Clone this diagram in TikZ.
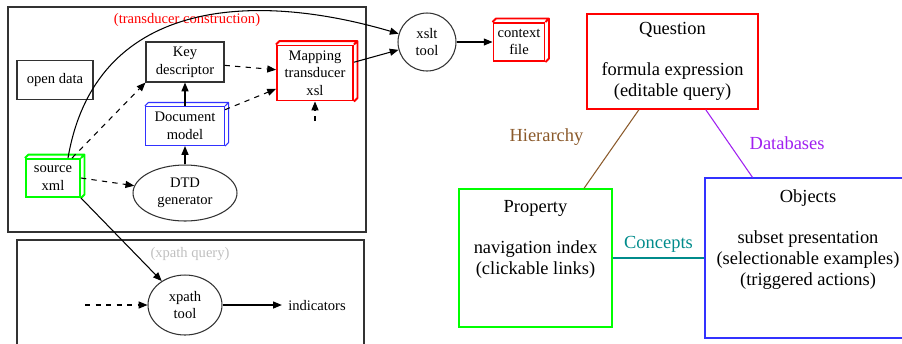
\documentclass[tikz,border=0pt]{standalone}
\usepackage{fontspec}
\setmainfont{Liberation Serif}
\usetikzlibrary{arrows.meta, shapes.geometric}

\definecolor{gvred}{RGB}{255,0,0}
\definecolor{gvgreen}{RGB}{0,255,0}
\definecolor{gvblue}{RGB}{50,50,255}
\definecolor{hiercol}{RGB}{139,90,43}
\definecolor{dbcol}{RGB}{160,32,240}
\definecolor{conceptcol}{RGB}{0,139,139}
\definecolor{framecol}{RGB}{50,50,50}

\begin{document}
\begin{tikzpicture}[x=0.02cm, y=-0.02cm, >={Triangle[length=5pt,width=4pt]}, line width=0.6pt]
  % Define styles
  \tikzstyle{smalltext} = [font=\fontsize{8.3}{10}\selectfont, align=center]
  \tikzstyle{bigtext} = [font=\fontsize{10.5}{11.8}\selectfont, align=center]
  \tikzstyle{block} = [smalltext, rectangle, draw=framecol, inner sep=0pt]
  \tikzstyle{cube} = [smalltext, rectangle, inner sep=0pt]
  \tikzstyle{oval} = [smalltext, ellipse, draw=framecol, inner sep=0pt]
  \tikzstyle{panel} = [bigtext, rectangle, inner sep=0pt, line width=0.8pt]
  \tikzstyle{link} = [->, black]
  \tikzstyle{dlink} = [->, black, dash pattern=on 3pt off 3pt]

  \useasboundingbox (0,0) rectangle (902,343);

  % Clusters
  \draw[framecol] (8,7) rectangle (366,232);
  \draw[framecol] (17,240) rectangle (364,346);
  \node[smalltext, text=gvred] (buildlbl) at (187,20) {(transducer construction)};
  \node[smalltext, text=black!25] (querylbl) at (190,254) {(xpath query)};

  % Open data
  \node[block, minimum width=1.52cm, minimum height=0.78cm] (open) at (55,80) {open data};

  % Key descriptor
  \node[block, minimum width=1.56cm, minimum height=0.8cm] (key) at (185,62) {Key\\descriptor};

  % Mapping transducer
  \node[cube, draw=gvred, line width=1.1pt, minimum width=1.52cm, minimum height=1.1cm] (map) at (315,73) {Mapping\\transducer\\xsl};

  % Document model
  \node[cube, draw=gvblue, minimum width=1.58cm, minimum height=0.78cm] (doc) at (185,126) {Document\\model};

  % Source xml
  \node[cube, draw=gvgreen, line width=1.1pt, minimum width=1.08cm, minimum height=0.76cm] (src) at (53,178) {source\\xml};

  % DTD generator
  \node[oval, minimum width=2.08cm, minimum height=1.12cm] (dtd) at (185,193) {DTD\\generator};

  % xslt tool
  \node[smalltext, circle, draw=framecol, minimum size=1.16cm, inner sep=0pt] (xslt) at (427,42) {xslt\\tool};

  % Context file
  \node[cube, draw=gvred, line width=1.1pt, minimum width=1.02cm, minimum height=0.76cm] (ctx) at (519,42) {context\\file};

  % xpath tool
  \node[oval, minimum width=1.48cm, minimum height=1.2cm] (xpath) at (185,305) {xpath\\tool};
  \node[smalltext] (ind) at (317,305) {indicators};
  \coordinate (stub) at (315,121);
  \coordinate (feed) at (85,305);

  % 3D sides
  \foreach \n/\c/\w in {map/gvred/1.1pt, doc/gvblue/0.6pt, src/gvgreen/1.1pt, ctx/gvred/1.1pt}
    \draw[\c, line width=\w, line join=round] (\n.north west) -- ++(2pt,2pt) -- ([shift={(2pt,2pt)}]\n.north east) -- ([shift={(2pt,2pt)}]\n.south east) -- (\n.south east) (\n.north east) -- ++(2pt,2pt);

  % Question
  \node[panel, draw=gvred, minimum width=3.42cm, minimum height=1.9cm] (quest) at (672.5,61.5) {Question\\[11.8pt]formula expression\\(editable query)};

  % Property
  \node[panel, draw=gvgreen, minimum width=3.06cm, minimum height=2.76cm] (prop) at (535.5,258) {Property\\[11.8pt]navigation index\\(clickable links)\\[11.8pt]~};

  % Objects
  \node[panel, draw=gvblue, minimum width=4.12cm, minimum height=3.2cm] (obj) at (808,258) {Objects\\[11.8pt]subset presentation\\(selectionable examples)\\(triggered actions)\\[11.8pt]~};

  % Arrows
  \draw[dlink] ([xshift=0.38cm]src.north) -- (key.south west);
  \draw[link] ([xshift=0.3cm]src.north) .. controls (95,0) and (250,-10) .. (xslt);
  \draw[dlink] (src.east) -- (dtd);
  \draw[link] (src.south east) -- (xpath);
  \draw[link] (dtd) -- (doc);
  \draw[link] (doc) -- (key);
  \draw[dlink] (key) -- (map);
  \draw[dlink] (doc) -- (map);
  \draw[dlink] (stub) -- (map);
  \draw[link] (map) -- (xslt);
  \draw[link] (xslt) -- (ctx);
  \draw[dlink] (feed) -- (xpath);
  \draw[link] (xpath) -- (ind);

  % Relations
  \draw[hiercol] (quest) -- node[bigtext, midway, xshift=-1.3cm, yshift=0.24cm] (hierlbl) {Hierarchy} (prop);
  \draw[dbcol] (quest) -- node[bigtext, midway, xshift=1.16cm] (dblbl) {Databases} (obj);
  \draw[conceptcol] (prop) -- node[bigtext, midway, yshift=0.28cm] (conlbl) {Concepts} (obj);
\end{tikzpicture}
\end{document}
